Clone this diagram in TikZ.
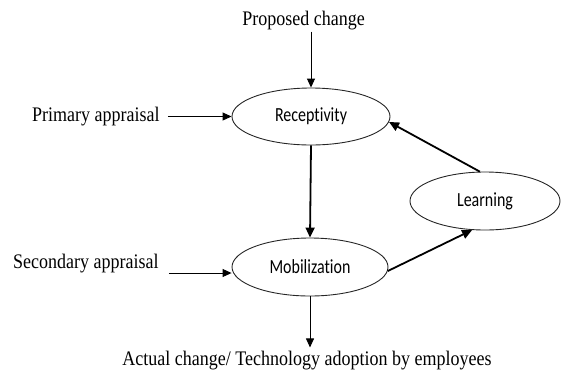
\documentclass[tikz,border=0pt]{standalone}
\usepackage{fontspec}
\setmainfont{Liberation Serif}
\newfontfamily\ellfont[Ligatures={NoCommon,NoRare,NoContextual}]{Carlito}
\usetikzlibrary{shapes.geometric,arrows.meta}
\tikzset{
  ell/.style={draw=black!85, line width=0.9pt, ellipse, inner sep=0pt,
    font=\ellfont\fontsize{16}{18}\selectfont},
  lbl/.style={inner sep=0pt, font=\fontsize{18}{20}\selectfont},
  thinarr/.style={line width=0.9pt, -{Triangle[length=9pt,width=8pt]}},
  thickarr/.style={line width=1.8pt, -{Triangle[length=10pt,width=9pt]}}
}
\newcommand{\ys}[1]{\scalebox{1}[1.15]{#1}}
\newcommand{\ye}[1]{\scalebox{1}[1.25]{#1}}
\begin{document}
\begin{tikzpicture}[x=1pt,y=-1pt]
\useasboundingbox (0,0) rectangle (561,373);
% ellipses
\node[ell, minimum width=158pt, minimum height=57pt] (rec) at (311,116.5) {\ye{Receptivity}};
\node[ell, minimum width=156pt, minimum height=58pt] (mob) at (310,267) {\ye{Mobilization}};
\node[ell, minimum width=150pt, minimum height=58pt] (lrn) at (485,201) {\ye{Learning}};
% labels
\node[lbl, anchor=base] (pc) at (303.5,25) {\ys{Proposed change}};
\node[lbl, anchor=base west] (pa) at (32,121) {\ys{Primary appraisal}};
\node[lbl, anchor=base west] (sa) at (13,268) {\ys{Secondary appraisal}};
\node[lbl, anchor=base] (act) at (307,365) {\ys{Actual change/ Technology adoption by employees}};
% connectors
\draw[thinarr] ([yshift=-2pt]pc.south -| rec.north) -- (rec.north);
\draw[thinarr] ([xshift=8pt]pa.east |- rec.west) -- (rec.west);
\draw[thinarr] ([xshift=10pt,yshift=-5pt]sa.base east) -- ([yshift=-6pt]mob.west);
\draw[thickarr] (rec.south) -- (mob.north);
\draw[thinarr] (mob.south) -- ([yshift=3pt]mob.south |- act.north);
\draw[thickarr] (mob.-3) -- (lrn.246);
\draw[thickarr] (lrn.100) -- (rec.-4);
\end{tikzpicture}
\end{document}
